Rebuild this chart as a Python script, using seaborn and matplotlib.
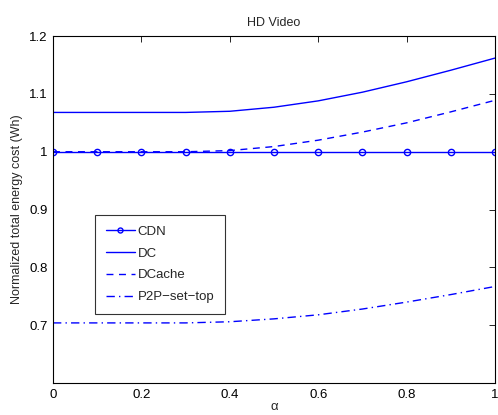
import matplotlib
matplotlib.use("Agg")
import matplotlib.pyplot as plt
import seaborn as sns
import pandas as pd

alpha = [0.0, 0.1, 0.2, 0.3, 0.4, 0.5, 0.6, 0.7, 0.8, 0.9, 1.0]
cdn = [1.0] * 11
dc = [1.068, 1.068, 1.068, 1.068, 1.070, 1.077, 1.088, 1.103, 1.121, 1.141, 1.162]
dcache = [1.0, 1.0, 1.0, 1.0, 1.002, 1.009, 1.020, 1.034, 1.050, 1.069, 1.089]
p2p = [0.704, 0.704, 0.704, 0.704, 0.706, 0.711, 0.718, 0.728, 0.740, 0.753, 0.767]
xticks = [0, 0.2, 0.4, 0.6, 0.8, 1.0]
yticks = [0.7, 0.8, 0.9, 1.0, 1.1, 1.2]

sns.set_style("white")
plt.rcParams['font.family'] = ['Liberation Sans', 'DejaVu Sans']
plt.rcParams['font.size'] = 9

fig = plt.figure(figsize=(4.98, 4.15), dpi=100)
ax = fig.add_axes([0.1064, 0.077, 0.8876, 0.836])

blue = (0, 0, 1)
sns.lineplot(x=alpha, y=cdn, ax=ax, color=blue, lw=1, marker='o', markersize=4.5,
             markerfacecolor='none', markeredgecolor=blue, markeredgewidth=1, label='CDN')
sns.lineplot(x=alpha, y=dc, ax=ax, color=blue, lw=1, label='DC')
sns.lineplot(x=alpha, y=dcache, ax=ax, color=blue, lw=1, linestyle=(0, (5, 4)), label='DCache')
sns.lineplot(x=alpha, y=p2p, ax=ax, color=blue, lw=1, linestyle=(0, (6, 3, 1, 3)), label='P2P\u2212set\u2212top')

ax.set_xlim(0, 1)
ax.set_ylim(0.6, 1.2)
ax.set_xticks(xticks)
ax.set_xticklabels(['0', '0.2', '0.4', '0.6', '0.8', '1'])
ax.set_yticks(yticks)
ax.set_yticklabels(['0.7', '0.8', '0.9', '1', '1.1', '1.2'])
ax.tick_params(direction='in', length=4, width=0.6, top=True, right=True, labelsize=9.5, colors='black', pad=4)
for s in ax.spines.values():
    s.set_visible(True)
    s.set_color('black')
    s.set_linewidth(0.8)
ax.set_title('HD Video', fontsize=9, pad=7)
ax.set_xlabel('\u03b1', fontsize=9.5, labelpad=0)
ax.set_ylabel('Normalized total energy cost (Wh)', fontsize=9, labelpad=4)

leg = ax.legend(loc='upper left', bbox_to_anchor=(0.095, 0.484), borderaxespad=0, frameon=True, fancybox=False,
                edgecolor='black', fontsize=9.5, handlelength=2.2, labelspacing=0.72,
                borderpad=0.8, handletextpad=0.25, markerscale=0.8)
leg.get_frame().set_linewidth(0.8)

fig.savefig('out.png', dpi=100)
